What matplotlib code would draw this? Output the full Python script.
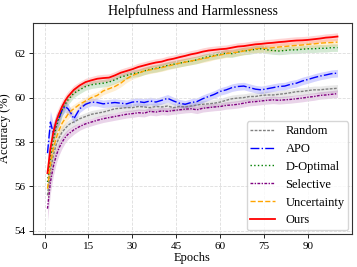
import matplotlib
matplotlib.use("Agg")
import matplotlib.pyplot as plt
import numpy as np

plt.rcParams['font.family'] = ['Liberation Serif', 'DejaVu Serif']

epochs = [1, 2, 3, 4, 5, 6, 7, 8, 9, 10] + list(range(12, 101, 2))

ours = [56.6, 57.7, 58.45, 58.95, 59.3, 59.6, 59.85, 60.05, 60.2, 60.35,
        60.55, 60.7, 60.78, 60.85, 60.88, 60.9, 61.0, 61.12, 61.2, 61.28,
        61.38, 61.45, 61.52, 61.58, 61.62, 61.7, 61.75, 61.82, 61.88, 61.95,
        62.0, 62.07, 62.12, 62.15, 62.18, 62.2, 62.25, 62.3, 62.32, 62.36,
        62.4, 62.42, 62.45, 62.47, 62.5, 62.52, 62.55, 62.57, 62.58, 62.6,
        62.63, 62.66, 62.7, 62.72, 62.75]
d_optimal = [56.2, 57.3, 58.1, 58.7, 59.1, 59.45, 59.7, 59.9, 60.05, 60.2,
             60.35, 60.5, 60.58, 60.62, 60.65, 60.7, 60.8, 60.92, 61.0, 61.08,
             61.12, 61.2, 61.28, 61.32, 61.38, 61.45, 61.5, 61.55, 61.6, 61.65,
             61.7, 61.78, 61.85, 61.9, 61.95, 62.0, 61.98, 62.05, 62.1, 62.12,
             62.18, 62.2, 62.15, 62.12, 62.1, 62.12, 62.15, 62.15, 62.18, 62.2,
             62.2, 62.22, 62.22, 62.25, 62.25]
uncertainty = [55.9, 57.0, 57.7, 58.2, 58.55, 58.85, 59.05, 59.25, 59.4, 59.5,
               59.7, 59.85, 60.0, 60.1, 60.3, 60.4, 60.5, 60.65, 60.85, 61.0,
               61.1, 61.2, 61.25, 61.3, 61.35, 61.42, 61.48, 61.55, 61.6, 61.65,
               61.7, 61.75, 61.8, 61.88, 61.92, 61.98, 62.02, 62.05, 62.1, 62.15,
               62.2, 62.22, 62.22, 62.25, 62.28, 62.3, 62.33, 62.35, 62.37, 62.4,
               62.42, 62.45, 62.47, 62.48, 62.5]
apo = [57.5, 58.9, 58.4, 58.9, 59.1, 59.45, 59.6, 59.5, 59.3, 59.05,
       59.5, 59.7, 59.8, 59.78, 59.72, 59.75, 59.78, 59.75, 59.72, 59.8,
       59.82, 59.78, 59.85, 59.8, 59.88, 59.97, 59.85, 59.75, 59.7, 59.78,
       59.82, 59.95, 60.05, 60.15, 60.28, 60.35, 60.45, 60.5, 60.52, 60.45,
       60.38, 60.35, 60.4, 60.45, 60.5, 60.52, 60.6, 60.65, 60.75, 60.82,
       60.9, 60.97, 61.02, 61.08, 61.1]
random_sel = [55.6, 56.7, 57.4, 57.9, 58.2, 58.45, 58.6, 58.75, 58.85, 58.9,
              59.05, 59.15, 59.25, 59.3, 59.35, 59.42, 59.5, 59.52, 59.55, 59.55,
              59.6, 59.58, 59.55, 59.6, 59.58, 59.62, 59.55, 59.6, 59.58, 59.62,
              59.67, 59.7, 59.72, 59.75, 59.8, 59.88, 59.95, 59.98, 60.0, 60.05,
              60.05, 60.1, 60.12, 60.12, 60.15, 60.18, 60.22, 60.27, 60.28, 60.32,
              60.35, 60.35, 60.38, 60.4, 60.42]
selective = [55.0, 56.2, 56.9, 57.4, 57.75, 58.0, 58.2, 58.35, 58.45, 58.55,
             58.7, 58.82, 58.9, 58.98, 59.05, 59.1, 59.15, 59.2, 59.25, 59.28,
             59.32, 59.3, 59.38, 59.35, 59.4, 59.38, 59.42, 59.45, 59.48, 59.5,
             59.45, 59.52, 59.55, 59.58, 59.6, 59.65, 59.67, 59.7, 59.75, 59.8,
             59.82, 59.85, 59.88, 59.9, 59.88, 59.9, 59.92, 59.95, 59.98, 60.02,
             60.05, 60.1, 60.12, 60.15, 60.18]
# half width of the shaded band
spread = [0.55, 0.5, 0.42, 0.36, 0.32, 0.28, 0.25, 0.23, 0.21, 0.2] + [0.17] * 45

series = [
    ("Random", random_sel, "gray", (0, (2, 1))),
    ("APO", apo, "blue", "-."),
    ("D-Optimal", d_optimal, "green", ":"),
    ("Selective", selective, "purple", (0, (2, 1, 1, 1))),
    ("Uncertainty", uncertainty, "orange", "--"),
    ("Ours", ours, "red", "-"),
]

fig = plt.figure(figsize=(3.57, 2.67), dpi=100)
ax = fig.add_axes([0.0924, 0.1236, 0.8936, 0.7903])

x = np.array(epochs)
sd = np.array(spread)
for name, vals, color, ls in series:
    y = np.array(vals)
    lw = 1.3 if name == "Ours" else 1.0
    ax.plot(x, y, color=color, linestyle=ls, linewidth=lw, label=name)
    ax.fill_between(x, y - sd, y + sd, color=color, alpha=0.17, linewidth=0)

ax.set_xticks(range(0, 91, 15))
ax.set_yticks([54, 56, 58, 60, 62])
ax.set_ylim(53.86, 63.36)
ax.set_xlim(-3.95, 104.95)
ax.tick_params(labelsize=8, length=3, width=0.6, pad=2.5)
ax.grid(True, linestyle='--', color='#dddddd', linewidth=0.6)
for s in ax.spines.values():
    s.set_linewidth(0.8)
    s.set_color('#333333')
ax.set_xlabel("Epochs", fontsize=9, labelpad=1)
ax.set_ylabel("Accuracy (%)", fontsize=9, labelpad=2)
ax.set_title("Helpfulness and Harmlessness", fontsize=10, pad=6)
ax.legend(loc='lower right', fontsize=9, labelspacing=0.47, handlelength=2.0,
          borderpad=0.3, handletextpad=0.8, borderaxespad=0.3)

fig.savefig("out.png", dpi=100)
